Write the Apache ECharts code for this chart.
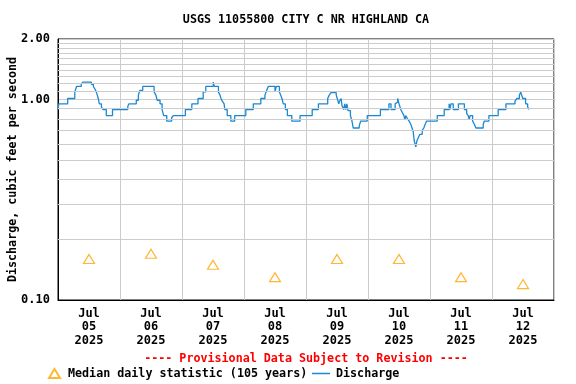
<!DOCTYPE html>
<html>
<head>
<meta charset="utf-8">
<script src="https://cdn.jsdelivr.net/npm/echarts@6/dist/echarts.min.js"></script>
<style>html,body{margin:0;padding:0;background:#fff}#c{width:576px;height:384px}</style>
</head>
<body>
<div id="c"></div>
<script>
// ---- data ----
const categories = ['Jul\n05\n2025','Jul\n06\n2025','Jul\n07\n2025','Jul\n08\n2025','Jul\n09\n2025','Jul\n10\n2025','Jul\n11\n2025','Jul\n12\n2025'];
// hours since 2025-07-05 00:00
const dischargeHours = [0,0.3,3.75,6.5,7.2,9.0,9.6,12.9,13.7,14.4,
  14.8,15.2,15.6,16.0,16.8,17.4,18.7,21.1,27.0,27.4,
  30.3,31.1,31.7,32.8,37.2,37.9,38.4,39.5,40.3,40.9,
  42.1,44.0,44.6,49.3,51.8,54.2,56.2,57.2,60.1,60.5,
  62.1,62.7,63.1,63.6,64.3,64.6,65.5,66.9,68.4,72.7,
  75.6,78.5,80.1,80.8,81.4,84.0,84.5,85.7,86.2,86.7,
  87.2,88.0,88.8,90.5,93.7,98.4,100.8,104.4,105.0,105.7,
  107.7,108.1,108.7,109.0,109.6,109.9,110.6,111.0,111.4,111.8,
  112.3,113.2,113.8,114.3,116.6,117.2,119.7,124.8,128.1,128.9,
  130.5,131.1,131.5,132.0,132.7,133.3,133.9,134.3,134.6,135.2,
  135.9,136.6,137.2,137.5,137.9,138.5,138.9,139.5,140.1,141.0,
  141.6,142.1,142.7,146.8,149.5,151.4,151.7,152.1,153.0,155.0,
  157.3,158.2,158.8,159.2,159.5,160.5,161.2,161.8,164.6,165.0,
  166.8,170.4,173.4,176.9,177.6,178.6,179.1,179.5,179.9,181.0,
  181.8,182.3];
const dischargeValues = [0.89,0.95,1.01,1.09,1.16,1.19,1.22,1.19,1.16,1.12,
  1.09,1.05,1.01,0.95,0.92,0.89,0.83,0.89,0.92,0.95,
  0.99,1.05,1.11,1.16,1.09,1.05,0.99,0.95,0.89,0.83,
  0.78,0.81,0.83,0.89,0.95,1.01,1.09,1.16,1.22,1.16,
  1.09,1.05,1.01,0.98,0.95,0.89,0.83,0.78,0.83,0.89,
  0.95,1.01,1.05,1.11,1.16,1.09,1.16,1.09,1.05,1.01,
  0.95,0.89,0.83,0.78,0.83,0.89,0.95,1.01,1.05,1.08,
  1.05,1.01,0.95,0.98,1.01,0.935,0.89,0.95,0.89,0.95,
  0.88,0.83,0.78,0.72,0.74,0.78,0.83,0.89,0.95,0.89,
  0.95,0.97,1.01,0.95,0.89,0.86,0.83,0.79,0.83,0.805,
  0.78,0.75,0.71,0.69,0.62,0.58,0.62,0.645,0.67,0.70,
  0.72,0.75,0.78,0.83,0.89,0.95,0.89,0.95,0.89,0.95,
  0.89,0.85,0.83,0.79,0.83,0.78,0.75,0.72,0.75,0.78,
  0.83,0.89,0.95,0.98,1.01,1.05,1.085,1.05,1.01,0.95,
  0.92,0.89];
const medianHours = [12,36,60,84,108,132,156,180];
const medianValues = [0.16,0.17,0.15,0.13,0.16,0.16,0.13,0.12];
const yGridValues = [0.2,0.3,0.4,0.5,0.6,0.7,0.8,0.9,1.1,1.2,1.3,1.4,1.5,1.6,1.7,1.8,1.9];

const titleText = 'USGS 11055800 CITY C NR HIGHLAND CA';
const footerText = '---- Provisional Data Subject to Revision ----';
const yName = 'Discharge, cubic feet per second';
const medianName = 'Median daily statistic (105 years)';
const dischargeName = 'Discharge';

// ---- chart ----
const FONT = '"DejaVu Sans Mono", "Liberation Mono", monospace';
const chart = echarts.init(document.getElementById('c'), null, {renderer: 'canvas'});
const dischargeData = dischargeHours.map((h, i) => [h, dischargeValues[i]]);
const medianData = medianHours.map((h, i) => [h, medianValues[i]]);
const BLUE = '#1a88d2';

chart.setOption({
  animation: false,
  backgroundColor: '#ffffff',
  grid: {left: 58, right: 22, top: 39, bottom: 84, containLabel: false, outerBoundsMode: 'none',
    show: true, borderColor: '#000', borderWidth: 1, backgroundColor: 'rgba(0,0,0,0)'},
  graphic: [
    {type: 'text', x: 306, y: 19.5, z: 10, style: {text: titleText, align: 'center', verticalAlign: 'middle', fill: '#000', font: 'bold 11.7px ' + FONT}},
    {type: 'text', x: 306, y: 359, z: 10, style: {text: footerText, align: 'center', verticalAlign: 'middle', fill: '#ff0000', font: 'bold 11.7px ' + FONT}}
  ],
  legend: [
    {data: [medianName], left: 48, top: 367.5, itemWidth: 11, itemHeight: 9, padding: 0,
     textStyle: {fontFamily: FONT, fontWeight: 'bold', fontSize: 11.7, color: '#000', padding: [0, 0, 0, 3]}},
    {data: [{name: dischargeName, icon: 'rect', itemStyle: {color: BLUE}}], left: 312, top: 367.5, itemWidth: 18, itemHeight: 1.5, padding: 0,
     textStyle: {fontFamily: FONT, fontWeight: 'bold', fontSize: 11.7, color: '#000', padding: [0, 0, 0, 1]}}
  ],
  xAxis: [
    {type: 'category', data: categories, boundaryGap: true, position: 'bottom',
     axisLine: {show: true, lineStyle: {color: '#000', width: 1}},
     axisTick: {show: false},
     splitLine: {show: true, interval: 0, lineStyle: {color: '#cccccc', width: 1}},
     axisLabel: {interval: 0, margin: 7, color: '#000', fontFamily: FONT, fontWeight: 'bold', fontSize: 12, lineHeight: 13.5}},
    {type: 'value', min: 0, max: 192, show: false}
  ],
  yAxis: {
    type: 'log', logBase: 10, min: 0.1, max: 2,
    name: yName, nameLocation: 'middle', nameGap: 39, nameRotate: 90, nameMoveOverlap: false,
    nameTextStyle: {fontFamily: FONT, fontWeight: 'bold', fontSize: 11.7, color: '#000'},
    axisLine: {show: true, lineStyle: {color: '#000', width: 1}},
    axisTick: {show: false},
    splitLine: {show: true, lineStyle: {color: '#cccccc', width: 1}},
    axisLabel: {margin: 8, color: '#000', fontFamily: FONT, fontWeight: 'bold', fontSize: 12,
      formatter: v => Number(v).toFixed(2)}
  },
  series: [
    {name: medianName, type: 'scatter', xAxisIndex: 1, yAxisIndex: 0, z: 1,
     symbol: 'triangle', symbolSize: [11, 9], data: medianData,
     itemStyle: {color: 'rgba(255,255,255,0)', borderColor: '#ffa500', borderWidth: 1.2},
     markLine: {silent: true, symbol: 'none', label: {show: false}, animation: false,
       lineStyle: {color: '#cccccc', width: 1, type: 'solid'},
       emphasis: {disabled: true},
       data: yGridValues.map(v => ({yAxis: v}))}},
    {name: dischargeName, type: 'line', xAxisIndex: 1, yAxisIndex: 0, z: 3,
     step: 'end', showSymbol: false, symbol: 'none', data: dischargeData,
     lineStyle: {color: BLUE, width: 1.3}, itemStyle: {color: BLUE}}
  ]
});
</script>
</body>
</html>
